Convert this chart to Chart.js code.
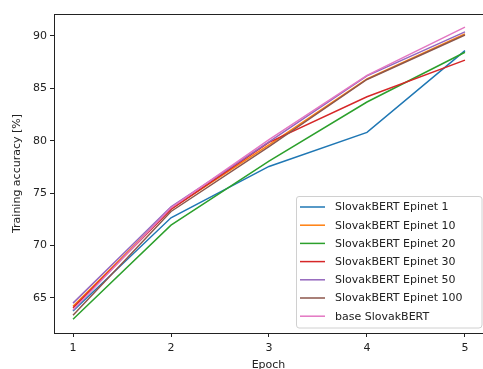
<!DOCTYPE html>
<html>
<head>
<meta charset="utf-8">
<script src="https://cdn.jsdelivr.net/npm/chart.js@4"></script>
<style>
html,body{margin:0;padding:0;background:#fff;overflow:hidden;}
#wrap{position:relative;width:483px;height:369px;}
</style>
</head>
<body>
<div id="wrap"><canvas id="c" width="483" height="369"></canvas></div>
<script>
const epochs = [1, 2, 3, 4, 5];
const seriesNames = ["SlovakBERT Epinet 1","SlovakBERT Epinet 10","SlovakBERT Epinet 20","SlovakBERT Epinet 30","SlovakBERT Epinet 50","SlovakBERT Epinet 100","base SlovakBERT"];
const epinet1   = [63.75, 72.65, 77.55, 80.8, 88.6];
const epinet10  = [64.2, 73.5, 79.6, 85.9, 90.2];
const epinet20  = [62.97, 71.95, 78.05, 83.7, 88.45];
const epinet30  = [64.05, 73.45, 79.85, 84.2, 87.7];
const epinet50  = [64.5, 73.7, 79.9, 86.2, 90.4];
const epinet100 = [63.35, 73.25, 79.45, 85.85, 90.1];
const baseBERT  = [63.85, 73.6, 80.1, 86.25, 90.85];
const yTicks = [65, 70, 75, 80, 85, 90];
const xTicks = [1, 2, 3, 4, 5];
const colors = ["#1f77b4","#ff7f0e","#2ca02c","#d62728","#9467bd","#8c564b","#e377c2"];
const allSeries = [epinet1, epinet10, epinet20, epinet30, epinet50, epinet100, baseBERT];

const FONT = "'DejaVu Sans', sans-serif";

const datasets = allSeries.map((s, i) => ({
  label: seriesNames[i],
  data: s.map((v, j) => ({x: epochs[j], y: v})),
  borderColor: colors[i],
  backgroundColor: colors[i],
  borderWidth: 1.5,
  pointRadius: 0,
  tension: 0,
  fill: false,
  order: allSeries.length - i
}));

const framePlugin = {
  id: 'frame',
  afterDatasetsDraw(chart) {
    const {ctx, chartArea: a} = chart;
    ctx.save();
    ctx.strokeStyle = '#222';
    ctx.lineWidth = 1;
    ctx.strokeRect(a.left + 0.5, a.top + 0.5, a.right - a.left, a.bottom - a.top);
    ctx.restore();
  }
};

const legendPlugin = {
  id: 'mplLegend',
  afterDraw(chart) {
    const ctx = chart.ctx;
    const x0 = 296, y0 = 196, w = 186, h = 132, r = 3;
    ctx.save();
    ctx.beginPath();
    ctx.moveTo(x0 + r, y0 + 0.5);
    ctx.lineTo(x0 + w - r, y0 + 0.5);
    ctx.quadraticCurveTo(x0 + w, y0 + 0.5, x0 + w, y0 + r);
    ctx.lineTo(x0 + w, y0 + h - r);
    ctx.quadraticCurveTo(x0 + w, y0 + h, x0 + w - r, y0 + h);
    ctx.lineTo(x0 + r, y0 + h);
    ctx.quadraticCurveTo(x0 + 0.5, y0 + h, x0 + 0.5, y0 + h - r);
    ctx.lineTo(x0 + 0.5, y0 + r);
    ctx.quadraticCurveTo(x0 + 0.5, y0 + 0.5, x0 + r, y0 + 0.5);
    ctx.closePath();
    ctx.fillStyle = 'rgba(255,255,255,0.8)';
    ctx.fill();
    ctx.strokeStyle = '#d0d0d0';
    ctx.lineWidth = 1;
    ctx.stroke();
    ctx.font = '11px ' + FONT;
    ctx.textBaseline = 'middle';
    ctx.fillStyle = '#222';
    chart.data.datasets.forEach((ds, i) => {
      const y = 207 + i * 18.2;
      ctx.strokeStyle = ds.borderColor;
      ctx.lineWidth = 1.5;
      ctx.beginPath();
      ctx.moveTo(300, y);
      ctx.lineTo(325, y);
      ctx.stroke();
      ctx.fillStyle = '#222';
      ctx.fillText(ds.label, 335, y + 0.5);
    });
    ctx.restore();
  }
};

new Chart(document.getElementById('c'), {
  type: 'line',
  data: { datasets },
  options: {
    responsive: false,
    animation: false,
    devicePixelRatio: 1,
    layout: { padding: { top: 14, right: 0, left: 0, bottom: 0 } },
    plugins: { legend: { display: false }, tooltip: { enabled: false } },
    scales: {
      x: {
        type: 'linear',
        min: 0.806,
        max: 5.184,
        afterBuildTicks(scale) { scale.ticks = xTicks.map(v => ({value: v})); },
        afterFit(scale) { scale.height = 36; },
        grid: { display: true, drawOnChartArea: false, drawTicks: true, tickLength: 4, color: '#222' },
        border: { display: true, color: '#222' },
        ticks: { color: '#222', font: { family: FONT, size: 11 }, padding: 5, maxRotation: 0 },
        title: { display: true, text: 'Epoch', color: '#222', font: { family: FONT, size: 11 }, padding: { top: 2, bottom: -3 } }
      },
      y: {
        type: 'linear',
        min: 61.65,
        max: 92.1,
        afterBuildTicks(scale) { scale.ticks = yTicks.map(v => ({value: v})); },
        afterFit(scale) { scale.width = 54; },
        grid: { display: true, drawOnChartArea: false, drawTicks: true, tickLength: 4, color: '#222' },
        border: { display: true, color: '#222' },
        ticks: { color: '#222', font: { family: FONT, size: 11 }, padding: 3 },
        title: { display: true, text: 'Training accuracy [%]', color: '#222', font: { family: FONT, size: 11 }, padding: { top: 11, bottom: 4 } }
      }
    }
  },
  plugins: [framePlugin, legendPlugin]
});
</script>
</body>
</html>
